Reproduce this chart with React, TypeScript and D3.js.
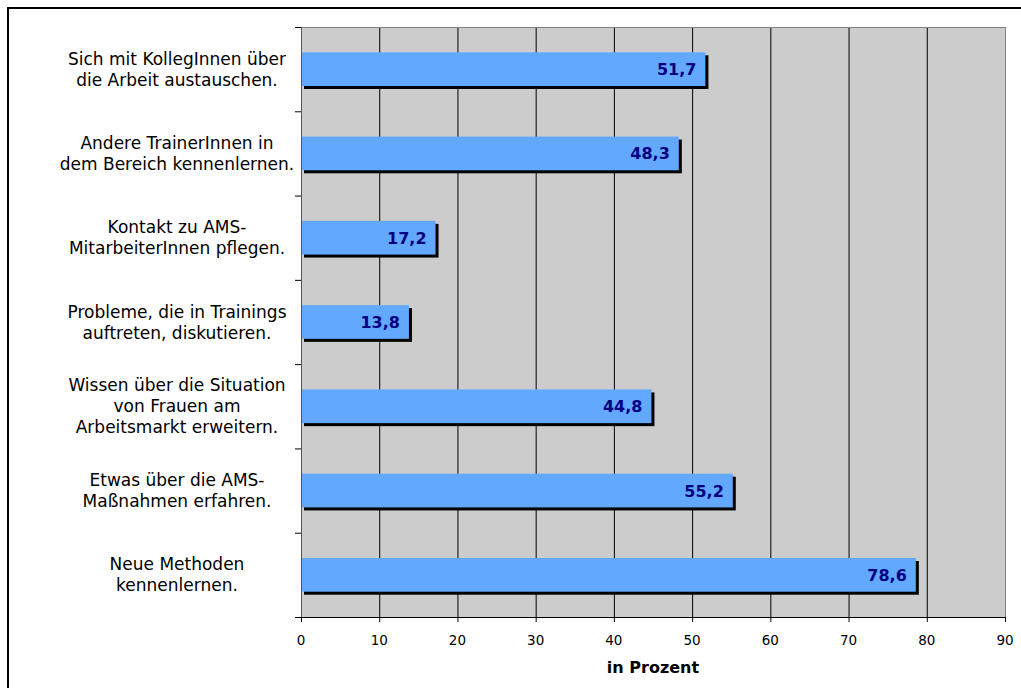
import React from "react";
import * as d3 from "d3";

const categories: string[][] = [
  ["Sich mit KollegInnen über", "die Arbeit austauschen."],
  ["Andere TrainerInnen in", "dem Bereich kennenlernen."],
  ["Kontakt zu AMS-", "MitarbeiterInnen pflegen."],
  ["Probleme, die in Trainings", "auftreten, diskutieren."],
  ["Wissen über die Situation", "von Frauen am", "Arbeitsmarkt erweitern."],
  ["Etwas über die AMS-", "Maßnahmen erfahren."],
  ["Neue Methoden", "kennenlernen."],
];
const values: number[] = [51.7, 48.3, 17.2, 13.8, 44.8, 55.2, 78.6];
const xTicks: number[] = [0, 10, 20, 30, 40, 50, 60, 70, 80, 90];
const xTitle = "in Prozent";

const W = 1021;
const H = 688;
const left = 301;
const right = 1005;
const top = 27;
const bottom = 617;
const FONT = "'DejaVu Sans', Verdana, sans-serif";

export default function App() {
  const x = d3.scaleLinear().domain([0, 90]).range([left, right]);
  const y = d3
    .scaleBand<number>()
    .domain(d3.range(categories.length))
    .range([top, bottom]);
  const bw = y.bandwidth();
  const barH = bw * 0.4;
  const fmt = (v: number) => v.toFixed(1).replace(".", ",");
  const lineH = 21;

  return (
    <svg
      width={W}
      height={H}
      style={{ position: "absolute", left: 0, top: 0, background: "#fff" }}
      fontFamily={FONT}
    >
      <rect x={8} y={8} width={1100} height={1100} fill="#fff" stroke="#000" strokeWidth={2} />
      <rect x={left} y={top} width={right - left} height={bottom - top} fill="#cccccc" />
      {xTicks.slice(1, -1).map((t) => (
        <line key={"g" + t} x1={x(t) + 0.5} x2={x(t) + 0.5} y1={top} y2={bottom} stroke="#000" strokeWidth={1} />
      ))}
      <rect x={left + 0.5} y={top + 0.5} width={right - left} height={bottom - top} fill="none" stroke="#808080" strokeWidth={1} />
      {/* bars */}
      {values.map((v, i) => {
        const cy = (y(i) as number) + bw / 2;
        const y0 = cy - barH / 2;
        return (
          <g key={"b" + i}>
            <rect x={x(0) + 3} y={y0 + 3} width={x(v) - x(0)} height={barH} fill="#000" />
            <rect x={x(0) + 1} y={y0} width={x(v) - x(0) - 1} height={barH} fill="#63a8ff" />
            <text
              x={x(v) - 9}
              y={cy + 6}
              textAnchor="end"
              fontSize={16}
              fontWeight="bold"
              fill="#000080"
            >
              {fmt(v)}
            </text>
          </g>
        );
      })}
      {/* axes */}
      <line x1={left + 0.5} x2={left + 0.5} y1={top} y2={bottom + 5} stroke="#555" strokeWidth={1} />
      <line x1={left - 6} x2={right + 1} y1={bottom + 0.5} y2={bottom + 0.5} stroke="#000" strokeWidth={1} />
      {d3.range(categories.length + 1).map((i) => {
        const yy = top + i * bw;
        return <line key={"yt" + i} x1={left - 6} x2={left} y1={yy + 0.5} y2={yy + 0.5} stroke="#000" />;
      })}
      {xTicks.map((t) => (
        <g key={"xt" + t}>
          <line x1={x(t) + 0.5} x2={x(t) + 0.5} y1={bottom} y2={bottom + 5} stroke="#000" />
          <text x={x(t)} y={645} textAnchor="middle" fontSize={13.5} fill="#000">
            {t}
          </text>
        </g>
      ))}
      <text x={(left + right) / 2} y={673} textAnchor="middle" fontSize={16} fontWeight="bold" fill="#000">
        {xTitle}
      </text>
      {/* category labels */}
      {categories.map((lines, i) => {
        const cy = (y(i) as number) + bw / 2;
        const first = cy + 6 - ((lines.length - 1) * lineH) / 2;
        return (
          <text key={"c" + i} textAnchor="middle" fontSize={17} fill="#000">
            {lines.map((l, j) => (
              <tspan key={j} x={177} y={first + j * lineH}>
                {l}
              </tspan>
            ))}
          </text>
        );
      })}
    </svg>
  );
}
